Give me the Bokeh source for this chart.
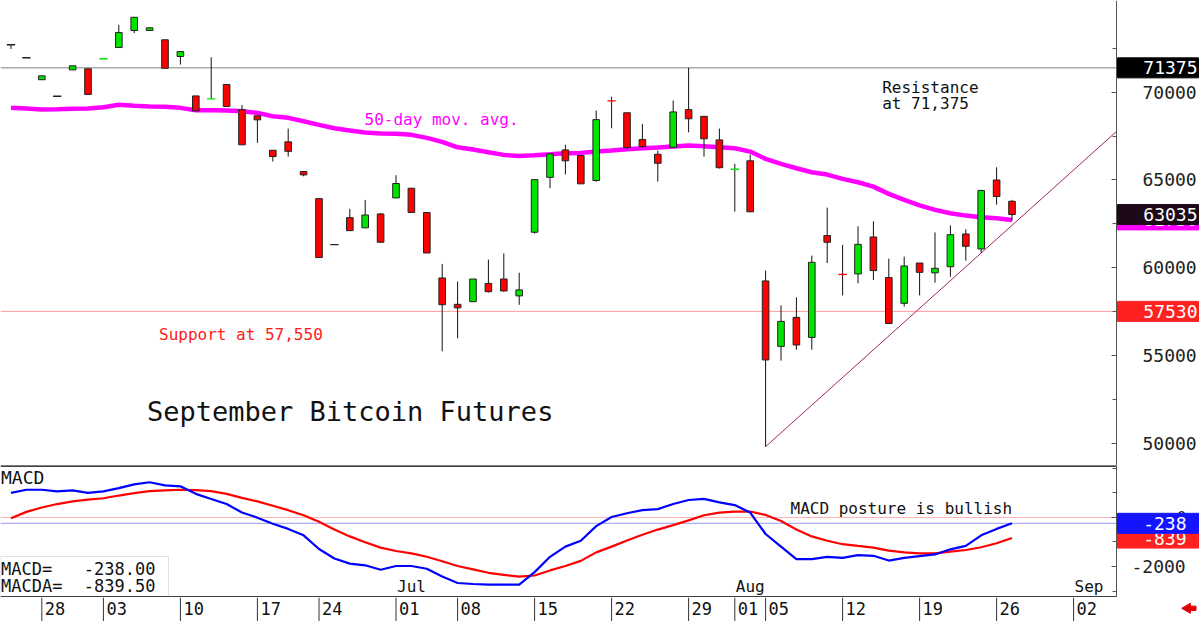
from bokeh.plotting import figure
from bokeh.layouts import column
from bokeh.models import Range1d, FixedTicker, BoxAnnotation
from bokeh.core.properties import value
from bokeh.embed import file_html
from bokeh.resources import INLINE

# ---------------- data ----------------
opens = [72690, 71945, 70700, 69760, 71260, 71320, 71880, 72530, 73500, 73500,
         72970, 72020, 69780, 69600, 70430, 69000, 68650, 66690, 67170, 65480,
         63940, 61325, 62860, 62280, 63070, 63980, 64530, 63150, 59430, 57930,
         58080, 59120, 59370, 58410, 62030, 65150, 66710, 66390, 64970, 69510,
         68820, 67300, 66460, 66860, 69000, 68620, 67280, 65600, 66090, 59260,
         55540, 57190, 56050, 61840, 59640, 59660, 61760, 59450, 57990, 60280,
         59720, 60070, 61930, 61080, 65000, 63790]
highs = [72690, 71945, 70920, 69760, 71490, 71320, 71890, 73820, 74250, 73650,
         72970, 72300, 69780, 71980, 70430, 69270, 68650, 66690, 67920, 65480,
         63940, 61325, 63360, 63870, 63120, 65270, 64530, 63150, 60230, 59220,
         59370, 60470, 60830, 59730, 65020, 66480, 67000, 66390, 68950, 69730,
         68820, 68190, 66670, 69520, 71375, 68620, 67920, 65920, 66440, 59850,
         57870, 58330, 60700, 63430, 61310, 62370, 62650, 60530, 60640, 60280,
         62020, 62420, 62200, 64450, 65720, 63870]
lows = [72450, 71945, 70700, 69760, 71260, 69860, 71880, 72530, 73350, 73500,
        71350, 71560, 68930, 69600, 69150, 67000, 67110, 66050, 66330, 65210,
        60590, 61325, 62100, 62280, 61460, 63980, 63150, 60850, 55260, 56000,
        58080, 58600, 58650, 57900, 61950, 64530, 65320, 64780, 64900, 67940,
        66780, 66850, 64910, 66860, 67710, 66330, 65650, 63200, 63190, 49840,
        54730, 55350, 55350, 60280, 58440, 59120, 59320, 56840, 57800, 58440,
        59160, 59500, 60415, 60850, 63600, 62690]
closes = [72690, 71945, 70920, 69760, 71490, 69860, 71890, 73380, 74250, 73650,
          71350, 72300, 68930, 69610, 69180, 67000, 68420, 66330, 66630, 65290,
          60590, 61325, 62120, 63010, 61460, 64800, 63150, 60850, 57910, 57730,
          59370, 58650, 58690, 58750, 65020, 66480, 66090, 64780, 68430, 69500,
          66840, 66900, 65950, 68870, 68480, 67340, 65700, 65610, 63190, 54770,
          56960, 55620, 60320, 61460, 59630, 61340, 59850, 56840, 60110, 59750,
          59980, 61890, 61230, 64400, 64060, 63035]
ma50 = [69100, 69061, 69004, 69021, 69044, 69061, 69135, 69272, 69215, 69175,
        69158, 69100, 68965, 68965, 68947, 68908, 68816, 68623, 68532, 68339,
        68134, 67941, 67810, 67696, 67639, 67622, 67565, 67394, 67167, 66860,
        66729, 66575, 66427, 66370, 66405, 66461, 66518, 66541, 66615, 66672,
        66746, 66803, 66843, 66900, 66956, 66917, 66860, 66803, 66615, 66200,
        65916, 65665, 65438, 65307, 65062, 64869, 64624, 64209, 63868, 63561,
        63299, 63106, 62975, 62878, 62821, 62730]
macd = [1008, 1133, 1133, 1063, 1104, 1008, 1063, 1201, 1354, 1438,
        1313, 1271, 965, 757, 549, 201, -7, -257, -465, -729,
        -1285, -1674, -1882, -1951, -2132, -1979, -1979, -2090, -2410, -2674,
        -2715, -2743, -2743, -2743, -2229, -1604, -1188, -951, -354, 21,
        174, 299, 340, 549, 715, 757, 618, 507, 201, -674,
        -1188, -1701, -1701, -1604, -1646, -1535, -1563, -1757, -1646, -1576,
        -1507, -1299, -1160, -729, -465, -238]
macda = [-35, 229, 410, 549, 660, 729, 785, 896, 993, 1076,
         1104, 1132, 1118, 1076, 965, 799, 660, 479, 299, 90,
         -174, -493, -771, -1007, -1229, -1368, -1465, -1604, -1785, -1979,
         -2118, -2257, -2340, -2410, -2368, -2160, -1979, -1771, -1424, -1188,
         -938, -701, -493, -313, -118, 90, 201, 243, 243, 104,
         -146, -493, -771, -951, -1090, -1160, -1229, -1354, -1424, -1465,
         -1465, -1396, -1326, -1215, -1049, -839.5]
tick_bars = [2, 6, 11, 16, 20, 25, 29, 34, 39, 44, 47, 49, 54, 59, 64, 69]
tick_labels = ["28", "03", "10", "17", "24", "01", "08", "15", "22", "29",
               "01", "05", "12", "19", "26", "02"]
month_bars = [25, 47, 69]
month_labels = ["Jul", "Aug", "Sep"]
price_ticks = [50000, 55000, 60000, 65000, 70000]
price_minor = [52500, 57500, 62500, 67500, 72500]
macd_ticks = [0, -2000]
macd_minor = [2000, 1000, -1000, -3000]
resistance = 71375
support = 57530
trend_x = [49, 71.8]
trend_y = [49840, 67770]

# ---------------- layout constants ----------------
BAR_PX = 15.4
AXIS_PX = 1116
X0 = -10.5 / BAR_PX
X1 = X0 + AXIS_PX / BAR_PX          # right price axis position
XE = X0 + 1200 / BAR_PX             # right edge of the page
P_LO, P_HI = 48768, 75204
M_LO, M_HI = -3265, 2122
MONO = "DejaVu Sans Mono"
GREEN = "#00e400"
RED = "#ff0000"
MAGENTA = "#ff00ff"
BLUE = "#0000ff"


def bx(px):
    return X0 + px / BAR_PX


def py(y):
    return P_HI - y * (P_HI - P_LO) / 465.0


def my(y):
    return M_HI - (y - 465) * (M_HI - M_LO) / 132.0


def tag(fig, yv, txt, bg, right_px=1197):
    fig.rect(x=[bx(1157.5)], y=[yv], width=81 / BAR_PX, height=20,
             height_units="screen", fill_color=bg, line_color=bg)
    fig.text(x=[bx(right_px)], y=[yv], text=[txt], text_font=value(MONO),
             text_font_size="18px", text_color="white", text_align="right",
             text_baseline="middle")


def style_axis(ax, ticks, minor, standoff, labels):
    ax.ticker = FixedTicker(ticks=ticks, minor_ticks=minor)
    ax.major_label_overrides = labels
    ax.fixed_location = X1
    ax.axis_line_color = "#555555"
    ax.major_tick_in = 5
    ax.major_tick_out = 0
    ax.minor_tick_in = 4
    ax.minor_tick_out = 0
    ax.major_tick_line_color = "#555555"
    ax.minor_tick_line_color = "#555555"
    ax.major_label_standoff = standoff
    ax.major_label_text_font = MONO
    ax.major_label_text_font_size = "18px"
    ax.major_label_text_color = "#222222"


xshared = Range1d(X0, XE)
idx = list(range(len(opens)))

# ---------------- main price panel ----------------
p = figure(width=1200, height=465, x_range=xshared, y_range=Range1d(P_LO, P_HI),
           output_backend="svg", toolbar_location=None,
           x_axis_location=None, y_axis_location="right",
           min_border_left=0, min_border_right=0,
           min_border_top=0, min_border_bottom=0)
p.grid.visible = False
p.outline_line_color = None
style_axis(p.yaxis[0], price_ticks, price_minor, 26,
           {t: str(t) for t in price_ticks})

p.line([X0, X1], [resistance, resistance], line_color="#808080", line_width=1)
p.line([X0, X1], [support, support], line_color="#ff9a9a", line_width=1)
p.line(trend_x, trend_y, line_color="#a0246e", line_width=1)
p.line(idx, ma50, line_color=MAGENTA, line_width=4.5)

p.segment(x0=idx, y0=lows, x1=idx, y1=highs, line_color="#111111", line_width=1)

body_i = [i for i in idx if abs(closes[i] - opens[i]) >= 40]
dash_i = [i for i in idx if abs(closes[i] - opens[i]) < 40]
p.vbar(x=body_i, width=0.43,
       top=[max(opens[i], closes[i]) for i in body_i],
       bottom=[min(opens[i], closes[i]) for i in body_i],
       fill_color=[GREEN if closes[i] > opens[i] else RED for i in body_i],
       line_color="#222222", line_width=1)


def dcol(i):
    if closes[i] > opens[i]:
        return GREEN
    if closes[i] < opens[i]:
        return RED
    return "#222222"


p.segment(x0=[i - 0.27 for i in dash_i], y0=[closes[i] for i in dash_i],
          x1=[i + 0.27 for i in dash_i], y1=[closes[i] for i in dash_i],
          line_color=[dcol(i) for i in dash_i], line_width=1.4)

p.text(x=[bx(881.7), bx(881.7)], y=[py(86.7), py(102.5)],
       text=["Resistance", "at 71,375"], text_font=value(MONO),
       text_font_size="16px", text_color="#111111",
       text_align="left", text_baseline="alphabetic")
p.text(x=[bx(364)], y=[py(119.3)], text=["50-day mov. avg."], text_font=value(MONO),
       text_font_size="16px", text_color=MAGENTA, text_align="left",
       text_baseline="alphabetic")
p.text(x=[bx(158.5)], y=[py(334)], text=["Support at 57,550"], text_font=value(MONO),
       text_font_size="16px", text_color="#ff1a1a", text_align="left",
       text_baseline="alphabetic")
p.text(x=[bx(146.5)], y=[py(410.5)], text=["September Bitcoin Futures"],
       text_font=value(MONO), text_font_size="27px", text_color="#111111",
       text_align="left", text_baseline="alphabetic")

tag(p, ma50[-1], str(int(ma50[-1])), MAGENTA)
tag(p, closes[-1], str(closes[-1]), "#1c0a18")
tag(p, resistance, str(resistance), "#000000")
tag(p, support, str(support), "#ff2020")

# ---------------- MACD panel ----------------
m = figure(width=1200, height=132, x_range=xshared, y_range=Range1d(M_LO, M_HI),
           output_backend="svg", toolbar_location=None,
           x_axis_location=None, y_axis_location="right",
           min_border_left=0, min_border_right=0,
           min_border_top=0, min_border_bottom=0)
m.grid.visible = False
m.outline_line_color = None
style_axis(m.yaxis[0], macd_ticks, macd_minor, 15, {0: "", -2000: "-2000"})

m.line([X0, X1], [M_HI, M_HI], line_color="#000000", line_width=2.5)
m.line([X0, X1], [M_LO, M_LO], line_color="#000000", line_width=2.5)
m.line([X0, X1], [0, 0], line_color="#ffb4b4", line_width=1)
m.line([X0, X1], [macd[-1], macd[-1]], line_color="#9a9aff", line_width=1)
m.line(idx, macda, line_color=RED, line_width=2.2)
m.line(idx, macd, line_color=BLUE, line_width=2.2)

m.text(x=[bx(0.5)], y=[my(477)], text=["MACD"], text_font=value(MONO),
       text_font_size="18px", text_color="#111111", text_align="left",
       text_baseline="middle")
m.text(x=[bx(790)], y=[my(507.5)], text=["MACD posture is bullish"],
       text_font=value(MONO), text_font_size="16px", text_color="#111111",
       text_align="left", text_baseline="alphabetic")
m.text(x=month_bars, y=[my(586)] * len(month_bars), text=month_labels,
       x_offset=1, text_font=value(MONO), text_font_size="16px",
       text_color="#111111", text_align="left", text_baseline="middle")

m.add_layout(BoxAnnotation(left=X0, right=bx(168), bottom=M_LO, top=my(556),
                           fill_color=None, line_color="#9a9a9a", line_width=1))
m.text(x=[bx(0.5), bx(0.5)], y=[my(568), my(585)], text=["MACD=", "MACDA="],
       text_font=value(MONO), text_font_size="17px", text_color="#111111",
       text_align="left", text_baseline="middle")
m.text(x=[bx(155), bx(155)], y=[my(568), my(585)],
       text=[f"{macd[-1]:.2f}", f"{macda[-1]:.2f}"],
       text_font=value(MONO), text_font_size="17px", text_color="#111111",
       text_align="right", text_baseline="middle")

m.text(x=[bx(1186)], y=[0], text=["0"], text_font=value(MONO),
       text_font_size="16px", text_color="#222222", text_align="right",
       text_baseline="middle")
tag(m, macda[-1], str(int(macda[-1])), "#ff2020", right_px=1186)
tag(m, macd[-1], str(int(macd[-1])), "#1414ff", right_px=1186)

# ---------------- date strip ----------------
d = figure(width=1200, height=24, x_range=xshared,
           y_range=Range1d(0, 1), output_backend="svg", toolbar_location=None,
           x_axis_location=None, y_axis_location=None,
           min_border_left=0, min_border_right=0, min_border_top=0,
           min_border_bottom=0)
d.grid.visible = False
d.outline_line_color = None
d.segment(x0=tick_bars, y0=[0] * len(tick_bars), x1=tick_bars,
          y1=[1] * len(tick_bars), line_color="#333333", line_width=1)
d.text(x=tick_bars, y=[0.55] * len(tick_bars), text=tick_labels, x_offset=3,
       text_font=value(MONO), text_font_size="17px", text_color="#111111",
       text_align="left", text_baseline="middle")
d.scatter(x=[bx(1187)], y=[0.55], marker="triangle", size=10, angle=1.5708,
          fill_color="#e00000", line_color="#e00000")
d.rect(x=[bx(1192.5)], y=[0.55], width=6 / BAR_PX, height=0.18,
       fill_color="#e00000", line_color="#e00000")

layout = column(p, m, d, spacing=0)
open("out.html", "w").write(file_html(layout, INLINE))
